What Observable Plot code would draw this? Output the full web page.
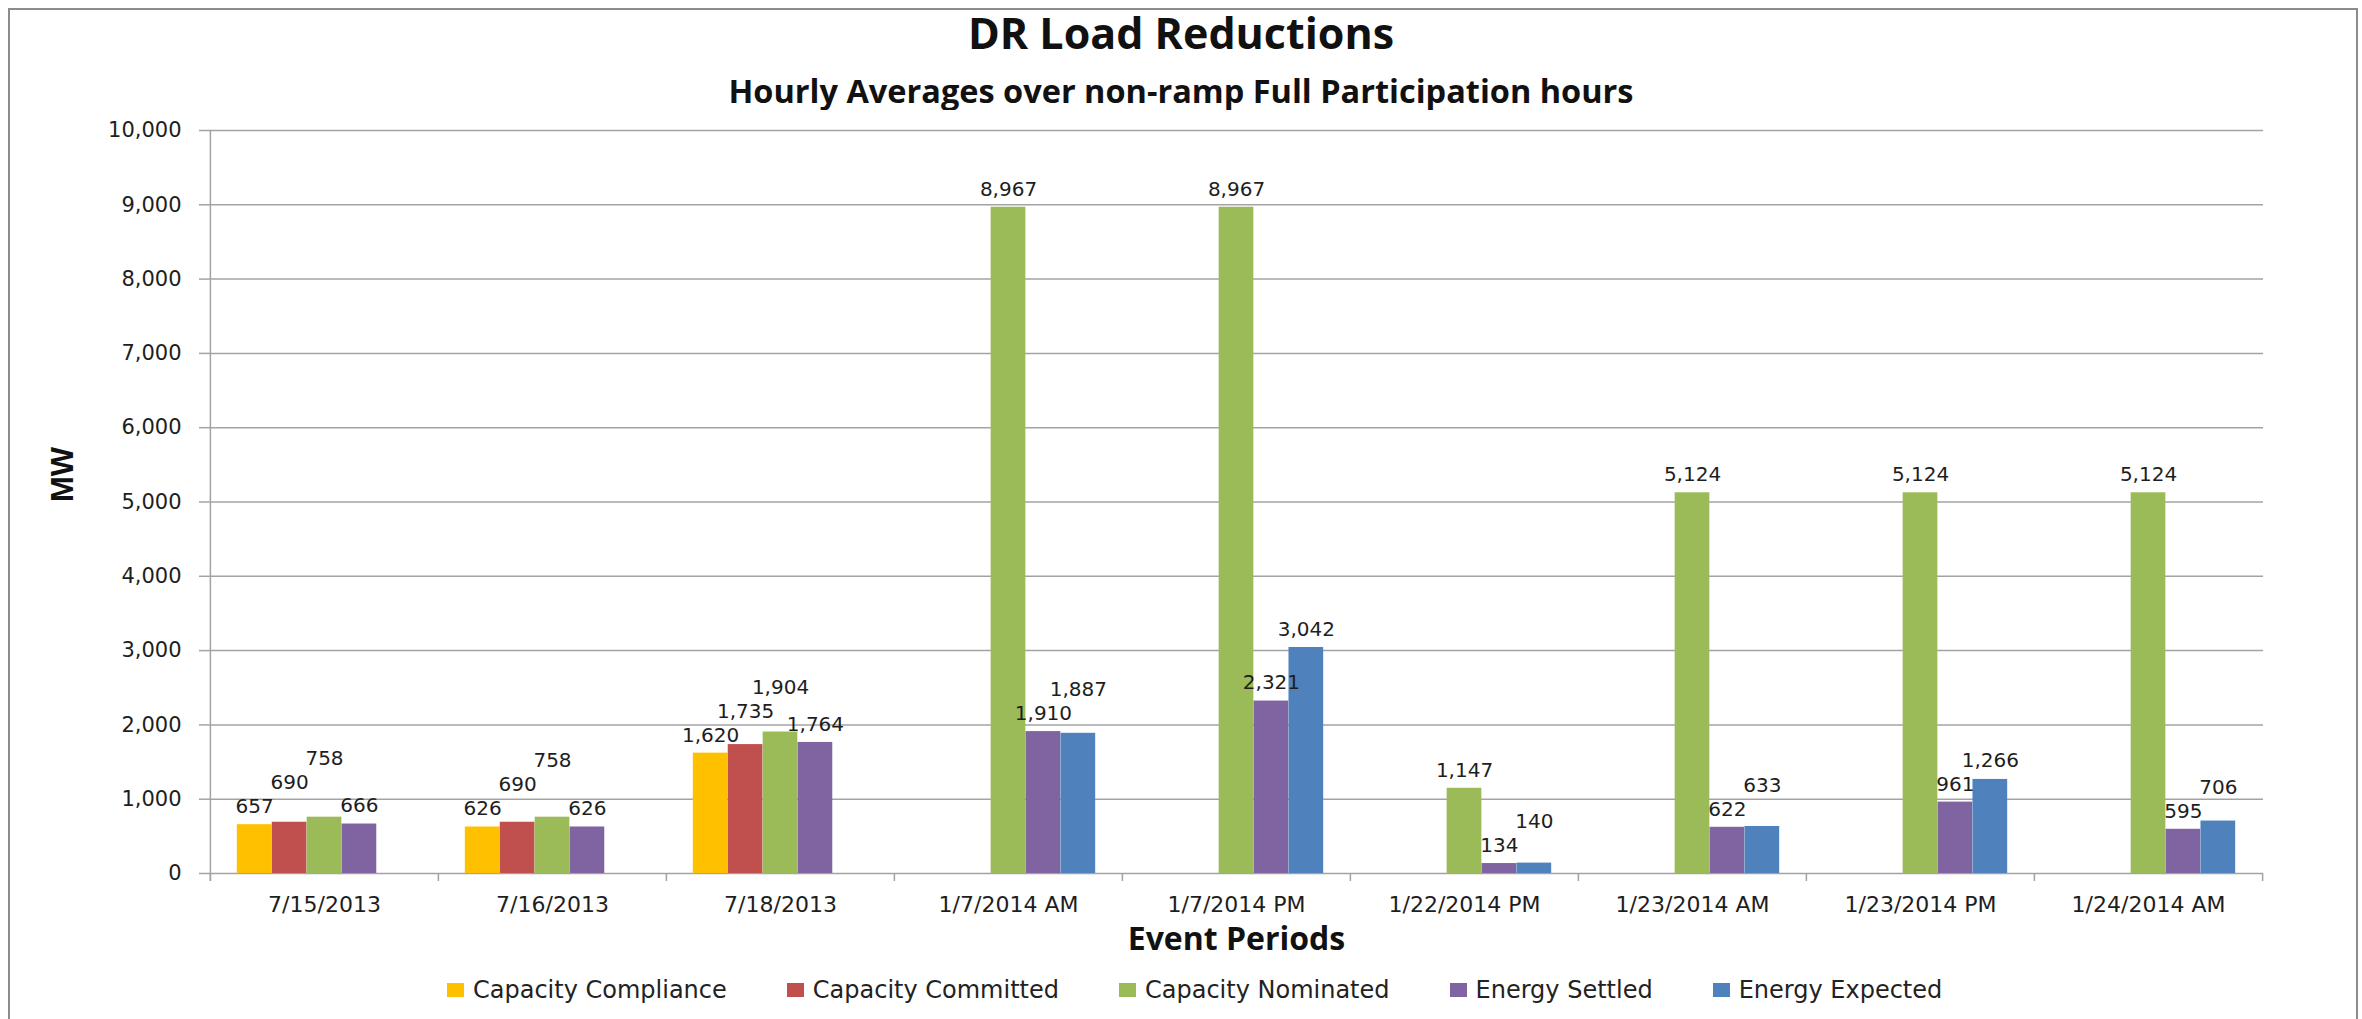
<!DOCTYPE html>
<html>
<head>
<meta charset="utf-8">
<script src="https://cdn.jsdelivr.net/npm/d3@7"></script>
<script src="https://cdn.jsdelivr.net/npm/@observablehq/plot@0.6"></script>
<style>
  html, body { margin: 0; padding: 0; background: #fff; }
  #page { position: relative; width: 2362px; height: 1019px; overflow: hidden; background: #fff; }
  #frame { position: absolute; left: 8px; top: 8px; width: 2346px; height: 1100px; border: 2px solid #8c8c8c; pointer-events: none; }
  .title { position: absolute; left: 0; width: 2362px; text-align: center; font-family: "Open Sans", sans-serif; font-weight: bold; color: #111; }
  #title { top: 7px; font-size: 43px; line-height: 52px; }
  #subtitle { top: 70px; font-size: 32.5px; line-height: 42px; }
  #chart { position: absolute; left: 0; top: 110px; }
  #legend { position: absolute; left: 447px; top: 975px; display: flex; gap: 60px; align-items: center; font-family: "DejaVu Sans", sans-serif; font-size: 24px; color: #222; line-height: 30px; }
  .item { display: flex; align-items: center; }
  .sw { width: 17px; height: 14px; margin-right: 9px; }
</style>
</head>
<body>
<div id="page">
  <div id="title" class="title">DR Load Reductions</div>
  <div id="subtitle" class="title">Hourly Averages over non-ramp Full Participation hours</div>
  <div id="chart"></div>
  <div id="legend"></div>
  <div id="frame"></div>
</div>
<script>
const categories = ["7/15/2013", "7/16/2013", "7/18/2013", "1/7/2014 AM", "1/7/2014 PM", "1/22/2014 PM", "1/23/2014 AM", "1/23/2014 PM", "1/24/2014 AM"];
const seriesNames = ["Capacity Compliance", "Capacity Committed", "Capacity Nominated", "Energy Settled", "Energy Expected"];
const capacityCompliance = [657, 626, 1620, null, null, null, null, null, null];
const capacityCommitted  = [690, 690, 1735, null, null, null, null, null, null];
const capacityNominated  = [758, 758, 1904, 8967, 8967, 1147, 5124, 5124, 5124];
const energySettled      = [666, 626, 1764, 1910, 2321, 134, 622, 961, 595];
const energyExpected     = [null, null, null, 1887, 3042, 140, 633, 1266, 706];
const seriesColors = ["#FFC000", "#C0504D", "#9BBB59", "#8064A2", "#4F81BD"];
const yTicks = [0, 1000, 2000, 3000, 4000, 5000, 6000, 7000, 8000, 9000, 10000];
const yDomain = [0, 10000];
const xTitle = "Event Periods";
const yTitle = "MW";

const seriesValues = [capacityCompliance, capacityCommitted, capacityNominated, energySettled, energyExpected];

const W = 2362, H = 850, mL = 209, mR = 99, mT = 20, mB = 87;
const nS = seriesNames.length;
const step = (W - mL - mR) / categories.length;
const bw = step * 0.765 / nS;
const inset = (step - bw) / 2;
const yS = d3.scaleLinear(yDomain, [H - mB, mT]);
const fmt = d3.format(",");
const gridColor = "#a3a3a3";
const textColor = "#1e1e1e";

const rows = [];
categories.forEach((c, ci) => {
  seriesValues.forEach((arr, si) => {
    const v = arr[ci];
    if (v != null) rows.push({cat: c, ci, si, series: seriesNames[si], value: v});
  });
});

// label placement: above the bar, nudged up when it collides with a neighbour's label
const labelFont = 20, labelGap = 18, labelStep = 24;
function textW(s) { let w = 0; for (const ch of s) w += (ch === "," ? 0.318 : 0.636); return w * labelFont; }
categories.forEach((c, ci) => {
  const placed = [];
  rows.filter(r => r.ci === ci).sort((a, b) => a.si - b.si).forEach(r => {
    const cx = r.si * bw;
    const w = textW(fmt(r.value));
    let y = yS(r.value) - labelGap;
    let moved = true;
    while (moved) {
      moved = false;
      for (const p of placed) {
        if (Math.abs(cx - p.cx) < (w + p.w) / 2 && Math.abs(y - p.y) < labelStep) {
          y = p.y - labelStep; moved = true;
        }
      }
    }
    placed.push({cx, w, y});
    r.labelY = yS.invert(y);
  });
});

const tickBottom = yS.invert(H - mB + 8);

const marks = [
  Plot.gridY(yTicks, {stroke: gridColor, strokeOpacity: 1, strokeWidth: 1.5}),
  ...seriesNames.map((s, si) => Plot.barY(rows.filter(r => r.si === si), {
    x: "cat", y: "value", fill: seriesColors[si],
    dx: (si - (nS - 1) / 2) * bw, insetLeft: inset, insetRight: inset
  })),
  Plot.ruleX([categories[0]], {x: d => d, dx: -step / 2, y1: tickBottom, y2: yDomain[1], stroke: gridColor, strokeWidth: 1.5}),
  Plot.ruleX(categories, {x: d => d, dx: -step / 2, y1: tickBottom, y2: 0, stroke: gridColor, strokeWidth: 1.5}),
  Plot.ruleX([categories[categories.length - 1]], {x: d => d, dx: step / 2, y1: tickBottom, y2: 0, stroke: gridColor, strokeWidth: 1.5}),
  ...seriesNames.map((s, si) => Plot.text(rows.filter(r => r.si === si), {
    x: "cat", y: "labelY", text: d => fmt(d.value),
    dx: (si - (nS - 1) / 2) * bw, fontSize: labelFont, fill: textColor, fontFamily: "DejaVu Sans"
  })),
  Plot.axisY(yTicks, {tickSize: 10, tickPadding: 18, tickFormat: fmt, fontSize: 21, stroke: gridColor, strokeWidth: 1.5, fill: textColor, label: null}),
  Plot.axisX({tickSize: 0, tickPadding: 23, fontSize: 22, fill: textColor, label: null}),
  Plot.text([xTitle], {frameAnchor: "bottom", dy: 76, fontSize: 32, fontWeight: "bold", fontFamily: "Open Sans", fill: "#111"}),
  Plot.text([yTitle], {frameAnchor: "left", dx: -146, rotate: -90, fontSize: 31, fontWeight: "bold", fontFamily: "Liberation Sans", fill: "#111"})
];

const chart = Plot.plot({
  width: W, height: H,
  marginLeft: mL, marginRight: mR, marginTop: mT, marginBottom: mB,
  style: {fontFamily: "DejaVu Sans", background: "#fff", overflow: "visible", color: textColor},
  x: {type: "band", domain: categories, padding: 0},
  y: {domain: yDomain},
  marks
});
document.getElementById("chart").appendChild(chart);

const legend = document.getElementById("legend");
seriesNames.forEach((s, i) => {
  const it = document.createElement("div");
  it.className = "item";
  const sw = document.createElement("div");
  sw.className = "sw"; sw.style.background = seriesColors[i];
  const t = document.createElement("span"); t.textContent = s;
  it.appendChild(sw); it.appendChild(t);
  legend.appendChild(it);
});
</script>
</body>
</html>
